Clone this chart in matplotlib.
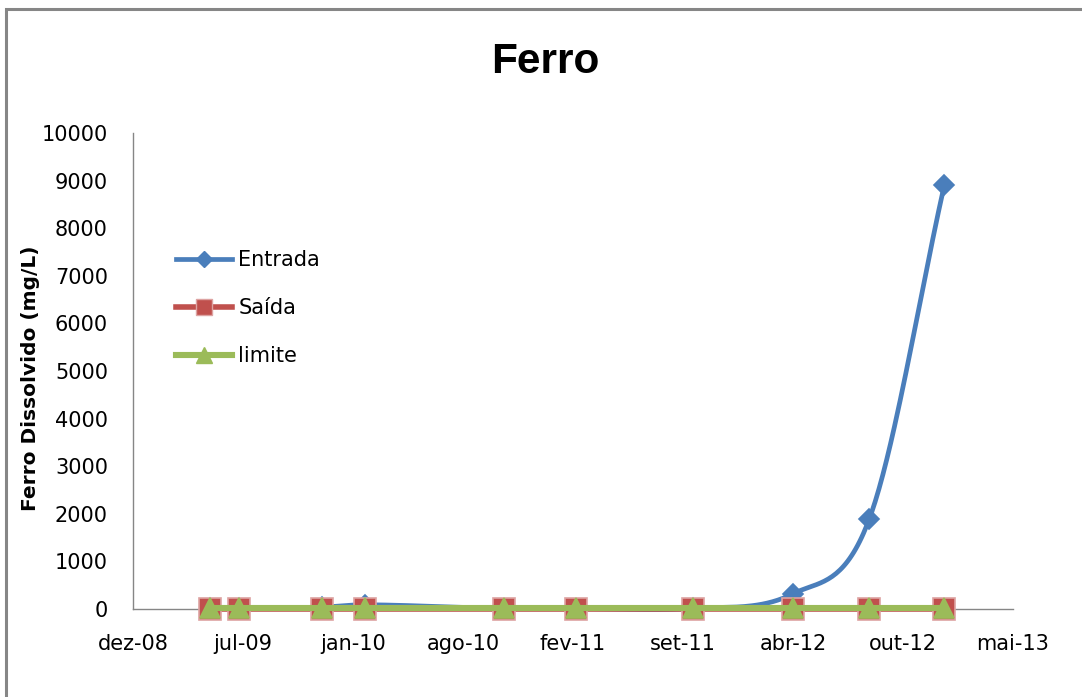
import datetime as dt
import numpy as np
import matplotlib
matplotlib.use("Agg")
import matplotlib.pyplot as plt
import matplotlib.dates as mdates
from matplotlib.lines import Line2D
from matplotlib.patches import Rectangle
from matplotlib.ticker import FixedLocator, FuncFormatter

# Sampling dates and dissolved iron readings (mg/L)
dates = [
    dt.date(2009, 5, 7), dt.date(2009, 6, 29), dt.date(2009, 11, 27),
    dt.date(2010, 2, 12), dt.date(2010, 10, 23), dt.date(2011, 3, 3),
    dt.date(2011, 10, 2), dt.date(2012, 4, 1), dt.date(2012, 8, 18),
    dt.date(2013, 1, 1),
]
entrada = [20, 15, 40, 90, 10, 8, 12, 320, 1900, 8900]
saida = [0.5, 0.5, 0.5, 0.5, 0.5, 0.5, 0.5, 0.5, 0.5, 0.5]
limite = [15, 15, 15, 15, 15, 15, 15, 15, 15, 15]

series_names = ["Entrada", "Saída", "limite"]
month_abbr = ["jan", "fev", "mar", "abr", "mai", "jun",
              "jul", "ago", "set", "out", "nov", "dez"]

# date axis: 200-day steps starting 18 Dec 2008
x_start = dt.date(2008, 12, 18)
x_step_days = 200
n_ticks = 9
y_ticks = list(range(0, 10001, 1000))

BLUE = "#4A7EBB"
RED = "#C0504D"
GREEN = "#9BBB59"
AXIS_GRAY = "#868686"


def smooth(xs, ys, n=40):
    """Cubic Hermite curve through the points, slopes from neighbouring points."""
    xs = np.asarray(xs, float)
    ys = np.asarray(ys, float)
    m = len(xs)
    slopes = np.empty(m)
    for i in range(m):
        if i == 0:
            slopes[i] = (ys[1] - ys[0]) / (xs[1] - xs[0])
        elif i == m - 1:
            slopes[i] = (ys[-1] - ys[-2]) / (xs[-1] - xs[-2])
        else:
            slopes[i] = (ys[i + 1] - ys[i - 1]) / (xs[i + 1] - xs[i - 1])
    px, py = [], []
    t = np.linspace(0, 1, n)
    h00 = 2 * t ** 3 - 3 * t ** 2 + 1
    h10 = t ** 3 - 2 * t ** 2 + t
    h01 = -2 * t ** 3 + 3 * t ** 2
    h11 = t ** 3 - t ** 2
    for i in range(m - 1):
        dx = xs[i + 1] - xs[i]
        seg_y = h00 * ys[i] + h10 * dx * slopes[i] + h01 * ys[i + 1] \
            + h11 * dx * slopes[i + 1]
        seg_x = xs[i] + t * dx
        if i > 0:
            seg_x, seg_y = seg_x[1:], seg_y[1:]
        px.append(seg_x)
        py.append(seg_y)
    return np.concatenate(px), np.concatenate(py)


W, H = 1082, 697
fig = plt.figure(figsize=(W / 100, H / 100), dpi=100)
fig.patch.set_facecolor("white")

# chart border
fig.add_artist(Rectangle((6 / W, -0.1), 1.2, (H - 9) / H + 0.1,
                         transform=fig.transFigure, fill=False,
                         edgecolor=AXIS_GRAY, linewidth=2.2))

ax = fig.add_axes([133 / W, (H - 609) / H, (1013 - 133) / W, (609 - 133) / H])

xnum = mdates.date2num(dates)

styles = [
    (entrada, BLUE, "D", 10.5, 3.4, BLUE, 0.8),
    (saida, RED, "s", 15.5, 4.0, "#DDA3A2", 0.75),
    (limite, GREEN, "^", 14.5, 4.4, GREEN, 0.75),
]
handles = []
for z, (vals, col, mk, ms, lw, mec, lscale) in enumerate(styles):
    sx, sy = smooth(xnum, vals)
    ax.plot(sx, sy, color=col, linewidth=lw, solid_capstyle="round",
            zorder=3 + 2 * z, clip_on=False)
    ax.plot(xnum, vals, linestyle="none", marker=mk, markersize=ms,
            markerfacecolor=col, markeredgecolor=mec, markeredgewidth=1.2,
            zorder=4 + 2 * z, clip_on=False)
    handles.append(Line2D([], [], color=col, linewidth=lw, marker=mk,
                          markersize=ms * lscale, markerfacecolor=col,
                          markeredgecolor=mec))

x0 = mdates.date2num(x_start)
tick_pos = [x0 + k * x_step_days for k in range(n_ticks)]
ax.set_xlim(tick_pos[0], tick_pos[-1])
ax.set_ylim(0, 10000)
ax.xaxis.set_major_locator(FixedLocator(tick_pos))


def fmt_date(v, pos):
    d = mdates.num2date(v)
    return f"{month_abbr[d.month - 1]}-{d.year % 100:02d}"


ax.xaxis.set_major_formatter(FuncFormatter(fmt_date))
ax.set_yticks(y_ticks)
ax.set_yticklabels([str(v) for v in y_ticks])

for s in ["top", "right"]:
    ax.spines[s].set_visible(False)
for s in ["left", "bottom"]:
    ax.spines[s].set_color(AXIS_GRAY)
    ax.spines[s].set_linewidth(1.0)
ax.tick_params(axis="both", length=0, labelsize=15, colors="black",
               labelfontfamily="DejaVu Sans")
ax.tick_params(axis="y", pad=18)
ax.tick_params(axis="x", pad=18)

fig.text(545 / W, 1 - 62 / H, "Ferro", ha="center", va="center",
         fontsize=30.5, fontweight="bold", family="Liberation Sans")
fig.text(31 / W, 1 - 378 / H, "Ferro Dissolvido (mg/L)", rotation=90,
         ha="center", va="center", fontsize=14.5, fontweight="bold",
         family="DejaVu Sans")

leg = ax.legend(handles, series_names, loc="upper left",
                bbox_to_anchor=(176 / W, 1 - 250 / H),
                bbox_transform=fig.transFigure, frameon=False,
                prop={"family": "DejaVu Sans", "size": 15},
                handlelength=2.7, handletextpad=0.3, labelspacing=1.35,
                borderaxespad=0, borderpad=0)

fig.savefig("out.png", dpi=100)
